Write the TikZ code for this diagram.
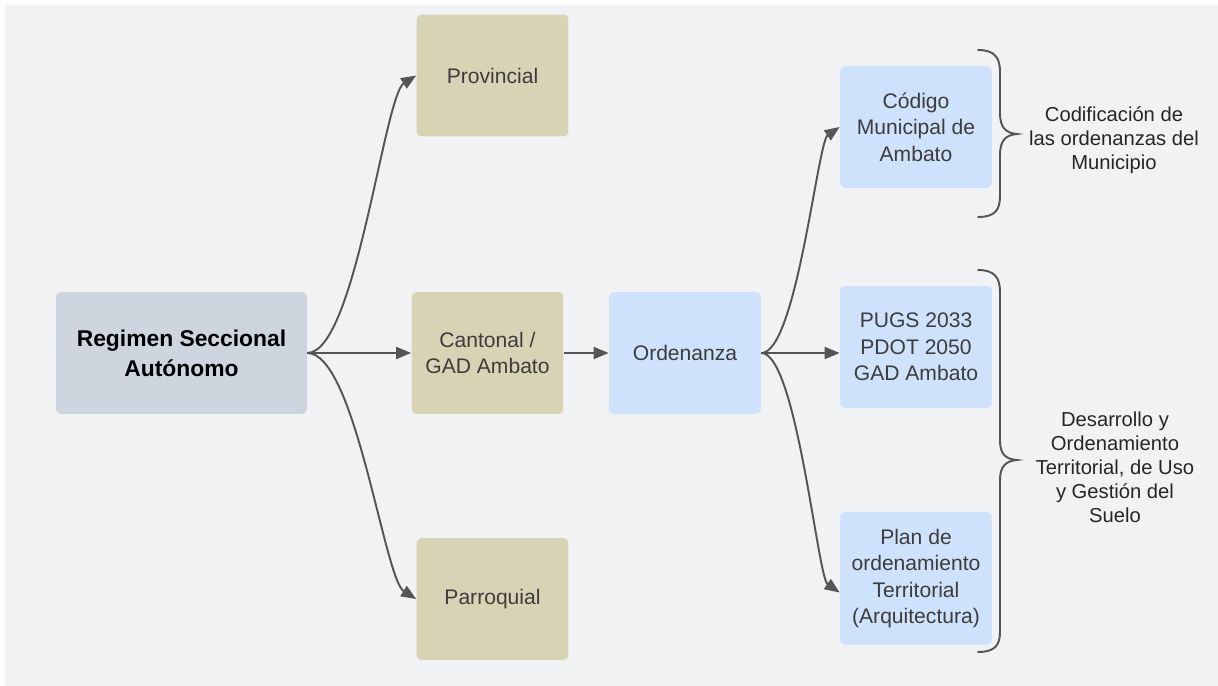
\documentclass[tikz,border=0pt]{standalone}
\usepackage{fontspec}
\setmainfont{Liberation Sans}
\usetikzlibrary{arrows.meta}

\definecolor{bgfill}{HTML}{F1F2F4}
\definecolor{regfill}{HTML}{CED5DF}
\definecolor{tanfill}{HTML}{D9D3B5}
\definecolor{bluefill}{HTML}{CFE2FC}
\definecolor{linegray}{HTML}{555555}
\definecolor{txtgray}{HTML}{3C3C3C}

\begin{document}
\begin{tikzpicture}[x=0.02cm, y=-0.02cm,
    box/.style={rounded corners=0.1cm, minimum width=3.04cm, minimum height=2.44cm,
      inner sep=0pt, align=center, text=txtgray, font=\fontsize{12}{15}\selectfont},
    tanbox/.style={box, fill=tanfill},
    bluebox/.style={box, fill=bluefill},
    link/.style={draw=linegray, line width=1.1pt, -{Triangle[length=0.3cm,width=0.24cm]}},
    bracket/.style={draw=linegray, line width=1.1pt, line cap=round},
    note/.style={align=center, text=black!85, font=\fontsize{11.5}{13.6}\selectfont}]
  \useasboundingbox (0,0) rectangle (1218,686);
  \fill[white] (0,0) rectangle (1218,686);
  \fill[bgfill] (5,5) rectangle (1218,686);

  % levels of government
  \node[box, fill=regfill, minimum width=5.02cm, text=black,
    font=\bfseries\fontsize{13}{17}\selectfont] (reg) at (181.5,353) {Regimen Seccional\\Aut\'onomo};
  \node[tanbox] (prov) at (492.5,75.5) {Provincial};
  \node[tanbox] (cant) at (487.5,353) {Cantonal /\\GAD Ambato};
  \node[tanbox] (parr) at (492.5,599) {Parroquial};

  % ordinances
  \node[bluebox] (orden) at (685,353) {Ordenanza};
  \node[bluebox] (codigo) at (916,127) {C\'odigo\\Municipal de\\Ambato};
  \node[bluebox] (pugs) at (916,347) {PUGS 2033\\PDOT 2050\\GAD Ambato};
  \node[bluebox, minimum height=2.66cm] (plan) at (916,578.5)
    {Plan de\\ordenamiento\\Territorial\\(Arquitectura)};

  \draw[link] (reg.east) .. controls +(48,0) and +(-32,20) .. (prov.west);
  \draw[link] (reg.east) -- (cant.west);
  \draw[link] (reg.east) .. controls +(48,0) and +(-32,-20) .. (parr.west);
  \draw[link] (cant.east) -- (orden.west);
  \draw[link] (orden.east) .. controls +(35,0) and +(-22,15) .. (codigo.west);
  \draw[link] (orden.east) -- (orden.east -| pugs.west);
  \draw[link] (orden.east) .. controls +(35,0) and +(-22,-15) .. ([yshift=-0.28cm]plan.west);

  % braces and their notes
  \draw[bracket] (978,50) .. controls (995,50) and (1000,58) .. (1000,72) -- (1000,113)
    .. controls (1000,128) and (1006,133) .. (1017,134)
    .. controls (1006,135) and (1000,140) .. (1000,155) -- (1000,196)
    .. controls (1000,210) and (995,217) .. (978,217);
  \draw[bracket] (978,270) .. controls (995,270) and (1000,278) .. (1000,292) -- (1000,440)
    .. controls (1000,455) and (1006,459) .. (1017,460)
    .. controls (1006,461) and (1000,466) .. (1000,480) -- (1000,632)
    .. controls (1000,645) and (995,652) .. (978,652);
  \node[note] (codif) at (1114,140) {Codificaci\'on de\\las ordenanzas del\\Municipio};
  \node[note] (desarr) at (1115,467) {Desarrollo y\\Ordenamiento\\Territorial, de Uso\\y Gesti\'on del\\Suelo};
\end{tikzpicture}
\end{document}
